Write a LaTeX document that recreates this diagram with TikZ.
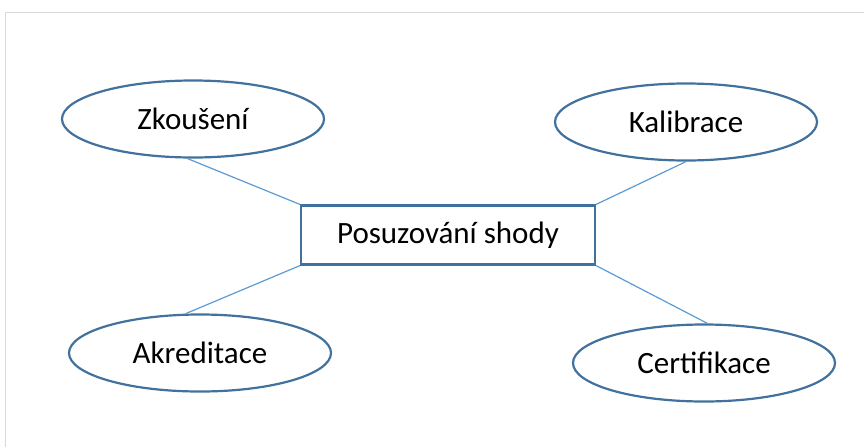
\documentclass[tikz,border=0pt]{standalone}
\usepackage{fontspec}
\setmainfont{Carlito}
\usepackage{tikz}
\usetikzlibrary{shapes.geometric}
\definecolor{ovalblue}{HTML}{41719C}
\definecolor{linkblue}{HTML}{5B9BD5}
\definecolor{framegray}{HTML}{D9D9D9}
\tikzset{
  frame/.style={line width=1.6pt, draw=framegray},
  oval/.style={ellipse, draw=ovalblue, line width=2.2pt, fill=white,
    minimum width=262pt, minimum height=77pt, inner sep=0pt,
    font=\fontsize{31}{36}\selectfont},
  mainbox/.style={rectangle, draw=ovalblue, line width=2.2pt, fill=white,
    minimum width=294pt, minimum height=59pt, inner sep=0pt,
    font=\fontsize{31}{36}\selectfont},
  link/.style={line width=1.2pt, draw=linkblue}
}

\begin{document}
\begin{tikzpicture}[x=1pt, y=-1pt]
  \useasboundingbox (0,0) rectangle (864,447);
  % page edge
  \draw[frame] (864,12.5) -- (5.5,12.5) -- (5.5,447);

  \node[mainbox] (shoda) at (448,235) {Posuzování shody};

  \node[oval] (zk) at (193,119) {Zkoušení};
  \node[oval] (ka) at (686,122) {Kalibrace};
  \node[oval] (ak) at (200,353) {Akreditace};
  \node[oval] (ce) at (704,363) {Certifikace};

  \draw[link] (zk.262) -- (shoda.north west);
  \draw[link] (ka.south) -- (shoda.north east);
  \draw[link] (shoda.south west) -- (ak.110);
  \draw[link] (shoda.south east) -- (ce.85);
\end{tikzpicture}
\end{document}
